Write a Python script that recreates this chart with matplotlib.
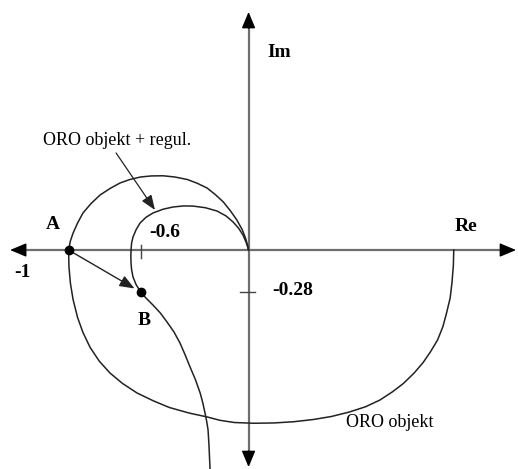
import numpy as np
import matplotlib.pyplot as plt

plt.rcParams['font.family'] = ['Liberation Serif', 'DejaVu Serif']

# Nyquist curve of the plant alone (ORO objekt), from w=0 to w->inf
oro_re = [1.14, 1.138, 1.13, 1.12, 1.10, 1.08, 1.05, 1.01, 0.97, 0.92, 0.86,
          0.80, 0.73, 0.65, 0.56, 0.46, 0.36, 0.25, 0.14, 0.03, -0.08, -0.16,
          -0.23, -0.33, -0.44, -0.53, -0.62, -0.70, -0.77, -0.83, -0.88,
          -0.92, -0.95, -0.975, -0.99, -0.998, -1.0, -0.99, -0.975, -0.95,
          -0.92, -0.875, -0.825, -0.77, -0.714, -0.66, -0.60, -0.54, -0.475,
          -0.41, -0.34, -0.285, -0.23, -0.185, -0.14, -0.10, -0.065, -0.035,
          -0.017, -0.005, 0.0]
oro_im = [0.0, -0.10, -0.22, -0.32, -0.42, -0.51, -0.60, -0.68, -0.75, -0.82,
          -0.89, -0.945, -1.00, -1.045, -1.08, -1.11, -1.13, -1.145, -1.153,
          -1.155, -1.15, -1.135, -1.113, -1.087, -1.05, -1.005, -0.953, -0.89,
          -0.82, -0.74, -0.65, -0.55, -0.45, -0.33, -0.22, -0.11, 0.0, 0.06,
          0.113, 0.18, 0.247, 0.31, 0.367, 0.41, 0.447, 0.47, 0.487, 0.494,
          0.495, 0.487, 0.47, 0.445, 0.413, 0.37, 0.32, 0.26, 0.20, 0.135,
          0.08, 0.03, 0.0]

# plant + PI regulator (ORO objekt + regul.)
reg_re = [-0.214, -0.217, -0.22, -0.225, -0.233, -0.242, -0.254, -0.269,
          -0.295, -0.325, -0.352, -0.381, -0.415, -0.453, -0.49, -0.531,
          -0.57, -0.60, -0.625, -0.642, -0.65, -0.653, -0.654, -0.653, -0.65,
          -0.642, -0.625, -0.603, -0.57, -0.531, -0.475, -0.419, -0.36,
          -0.308, -0.24, -0.175, -0.125, -0.086, -0.055, -0.031, -0.013, 0.0]
reg_im = [-1.46, -1.38, -1.30, -1.20, -1.14, -1.087, -1.02, -0.953, -0.865,
          -0.78, -0.70, -0.62, -0.545, -0.48, -0.42, -0.367, -0.32, -0.28,
          -0.23, -0.18, -0.13, -0.087, -0.04, 0.0, 0.045, 0.087, 0.135, 0.18,
          0.218, 0.247, 0.272, 0.287, 0.294, 0.293, 0.282, 0.26, 0.227, 0.187,
          0.145, 0.10, 0.05, 0.0]

point_A = (-1.0, 0.0)
point_B = (-0.6, -0.28)
tick_re = -0.6
tick_im = -0.28

fig = plt.figure(figsize=(5.18, 4.69), dpi=100)
ax = fig.add_axes([0, 0, 1, 1])
ax.set_xlim(-1.381, 1.497)
ax.set_ylim(-1.46, 1.667)
ax.axis('off')

# axes with arrow heads
axis_col = '#6e6e6e'
ax.plot([-1.30, 1.46], [0, 0], color=axis_col, lw=1.6, zorder=1)
ax.plot([0, 0], [-1.42, 1.56], color=axis_col, lw=1.6, zorder=1)
head = dict(arrowstyle='-|>,head_length=1.0,head_width=0.42', color='black',
            lw=1, shrinkA=0, shrinkB=0)
for tip, tail in [((1.486, 0), (1.40, 0)), ((-1.325, 0), (-1.24, 0)),
                  ((0, 1.587), (0, 1.48)), ((0, -1.447), (0, -1.34))]:
    ax.annotate('', xy=tip, xytext=tail, arrowprops=head)

# ticks
ax.plot([tick_re, tick_re], [0.035, -0.055], color='#444444', lw=1.0)
ax.plot([-0.045, 0.038], [tick_im, tick_im], color='#444444', lw=1.0)

# curves
ax.plot(oro_re, oro_im, color='#222222', lw=1.1, zorder=2)
ax.plot(reg_re, reg_im, color='#222222', lw=1.1, zorder=2)

# points A, B and arrow between them
ax.plot(*point_A, 'o', color='black', ms=6, zorder=4)
ax.plot(*point_B, 'o', color='black', ms=6, zorder=4)
ax.annotate('', xy=point_B, xytext=point_A,
            arrowprops=dict(arrowstyle='-|>,head_length=0.9,head_width=0.35',
                            color='#222222', lw=1.0, shrinkA=0, shrinkB=5))

# pointer to the regulated curve
ax.annotate('', xy=(-0.52, 0.267), xytext=(-0.736, 0.647),
            arrowprops=dict(arrowstyle='-|>,head_length=0.9,head_width=0.35',
                            color='#222222', lw=0.9, shrinkA=0, shrinkB=0))

bold = dict(fontsize=14, fontweight='bold', ha='center', va='center')
ax.text(0.169, 1.32, 'Im', **bold)
ax.text(1.208, 0.16, 'Re', **bold)
ax.text(-1.086, 0.167, 'A', **bold)
ax.text(-1.258, -0.147, '-1', **bold)
ax.text(-0.464, 0.12, '-0.6', **bold)
ax.text(-0.581, -0.467, 'B', **bold)
ax.text(0.247, -0.267, '-0.28', **bold)

reg = dict(fontsize=13, ha='center', va='center')
ax.text(-0.731, 0.733, 'ORO objekt + regul.', **reg)
ax.text(0.786, -1.147, 'ORO objekt', **reg)

fig.savefig('out.png', dpi=100)
